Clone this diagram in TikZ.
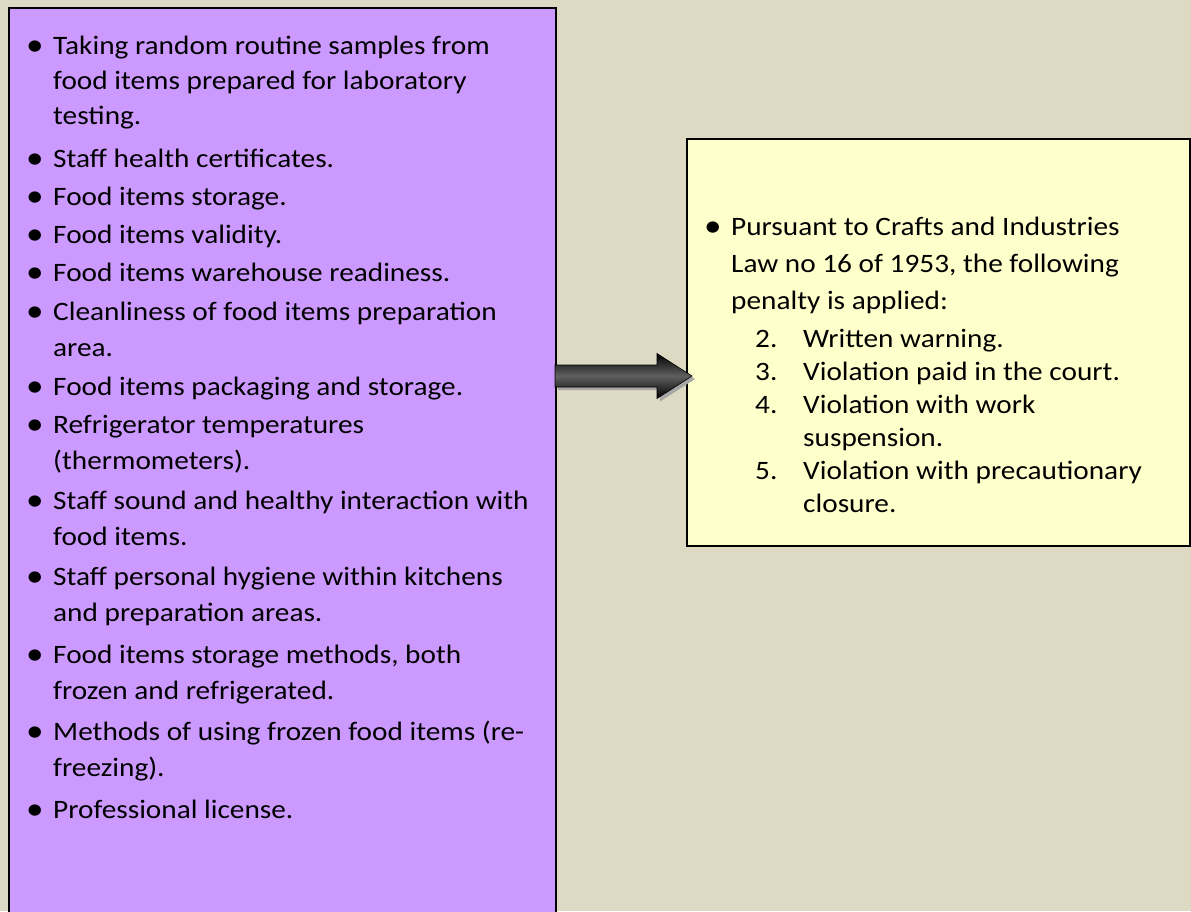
\documentclass[tikz,border=0pt]{standalone}
\usepackage{graphicx}
\usepackage{fontspec}
\setmainfont{Carlito}
\definecolor{tanbg}{HTML}{DDD9C3}
\definecolor{lavender}{HTML}{CC99FF}
\definecolor{paleyellow}{HTML}{FFFFCC}
\newcommand{\itembul}{\llap{\raisebox{-0.06em}{\scalebox{1.2}{\textbullet}}\hspace{9.5pt}}}

\begin{document}
\begin{tikzpicture}[x=1pt, y=-1pt,
  listbox/.style={draw, line width=2pt, anchor=north west, inner sep=0pt},
  listline/.style={anchor=base west, inner sep=0pt, yscale=0.907, font=\fontsize{29.3}{35}\selectfont},
  arrowbody/.style={draw=black, line width=0.6pt, top color=black, bottom color=black, middle color=gray!75!black}]
  \useasboundingbox[fill=tanbg] (0,0) rectangle (1191,911);
  % the two boxes
  \node (checks) [listbox, fill=lavender, minimum width=547, minimum height=930] at (8,7) {};
  \node (penalty) [listbox, fill=paleyellow, minimum width=503, minimum height=407] at (686,138) {};
  % inspection items
  \foreach \y/\txt [count=\i] in {54/{\itembul Taking random routine samples from}, 89/{food items prepared for laboratory}, 124/{testing.},
      167/{\itembul Staff health certificates.}, 205/{\itembul Food items storage.}, 243/{\itembul Food items validity.},
      281/{\itembul Food items warehouse readiness.}, 320/{\itembul Cleanliness of food items preparation}, 356/{area.},
      395/{\itembul Food items packaging and storage.}, 433/{\itembul Refrigerator temperatures}, 469/{(thermometers).},
      509/{\itembul Staff sound and healthy interaction with}, 545/{food items.},
      585/{\itembul Staff personal hygiene within kitchens}, 621/{and preparation areas.},
      663/{\itembul Food items storage methods, both}, 699/{frozen and refrigerated.},
      740/{\itembul Methods of using frozen food items (re-}, 776/{freezing).}, 818/{\itembul Professional license.}}
    \node (check\i) [listline] at (53, \y) {\txt};
  % law and penalties
  \node (law1) [listline] at (731,235) {\itembul Pursuant to Crafts and Industries};
  \node (law2) [listline] at (731,272) {Law no 16 of 1953, the following};
  \node (law3) [listline] at (731,309) {penalty is applied:};
  \foreach \n/\txt [count=\i] in {2./Written warning., 3./Violation paid in the court., 4./Violation with work,
      /suspension., 5./Violation with precautionary, /closure.} {
    \node (pnum\i) [listline] at ({755}, {347+33*(\i-1)}) {\n};
    \node (pitem\i) [listline] at ({803}, {347+33*(\i-1)}) {\txt};
  }
  % block arrow
  \coordinate (tail) at (555,376);
  \coordinate (tip) at (692,376);
  \path[fill=gray!70] ([shift={(3,3)}]tail) ++(0,-11) -- ++(102,0) -- ++(0,-11.5) -- ([shift={(3,3)}]tip)
    -- ++(-35,22.5) -- ++(0,-11.5) -- ++(-102,0) -- cycle;
  \path[arrowbody] (tail) ++(0,-11) -- ++(102,0) -- ++(0,-11.5) -- (tip) -- ++(-35,22.5) -- ++(0,-11.5) -- ++(-102,0) -- cycle;
\end{tikzpicture}
\end{document}
